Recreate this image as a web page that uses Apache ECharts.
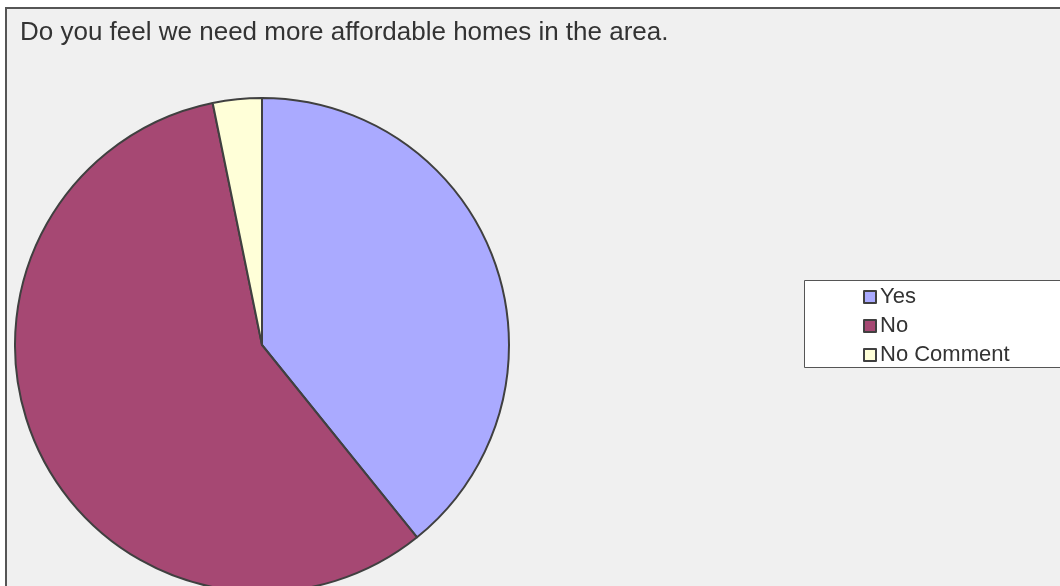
<!DOCTYPE html>
<html>
<head>
<meta charset="utf-8">
<script src="https://cdn.jsdelivr.net/npm/echarts@6/dist/echarts.min.js"></script>
<style>
  html, body { margin: 0; padding: 0; background: #fff; }
  #main { width: 1060px; height: 586px; }
</style>
</head>
<body>
<div id="main"></div>
<script>
// survey answers (counts)
var categories = ['Yes', 'No', 'No Comment'];
var answers = [49, 72, 4];
var sliceColors = ['#aaaaff', '#a64873', '#ffffd8'];

var chart = echarts.init(document.getElementById('main'));

var pieData = categories.map(function (name, i) {
    return {name: name, value: answers[i], itemStyle: {color: sliceColors[i]}};
});

chart.setOption({
    animation: false,
    textStyle: {fontFamily: 'Liberation Sans, Arial, sans-serif'},
    graphic: [
        {   // chart area panel
            type: 'rect', z: -10,
            shape: {x: 6, y: 8, width: 1080, height: 600},
            style: {fill: '#f0f0f0', stroke: '#555', lineWidth: 2}
        },
        {   // legend box
            type: 'rect', z: -5,
            shape: {x: 804.5, y: 280.5, width: 280, height: 87},
            style: {fill: '#fff', stroke: '#555', lineWidth: 1}
        }
    ],
    title: {
        text: 'Do you feel we need more affordable homes in the area.',
        left: 20, top: 20, padding: 0,
        textStyle: {fontSize: 26, fontWeight: 'normal', color: '#333'}
    },
    legend: {
        orient: 'vertical',
        left: 858, top: 281,
        itemWidth: 12, itemHeight: 12, itemGap: 7,
        icon: 'rect',
        itemStyle: {borderColor: '#404040', borderWidth: 2},
        textStyle: {fontSize: 22, color: '#333', padding: [0, 0, 0, -1]},
        data: categories
    },
    series: [{
        type: 'pie',
        center: [262, 345],
        radius: 247,
        startAngle: 90,
        clockwise: true,
        label: {show: false},
        labelLine: {show: false},
        itemStyle: {borderColor: '#404040', borderWidth: 2},
        emphasis: {disabled: true},
        data: pieData
    }]
});
</script>
</body>
</html>
